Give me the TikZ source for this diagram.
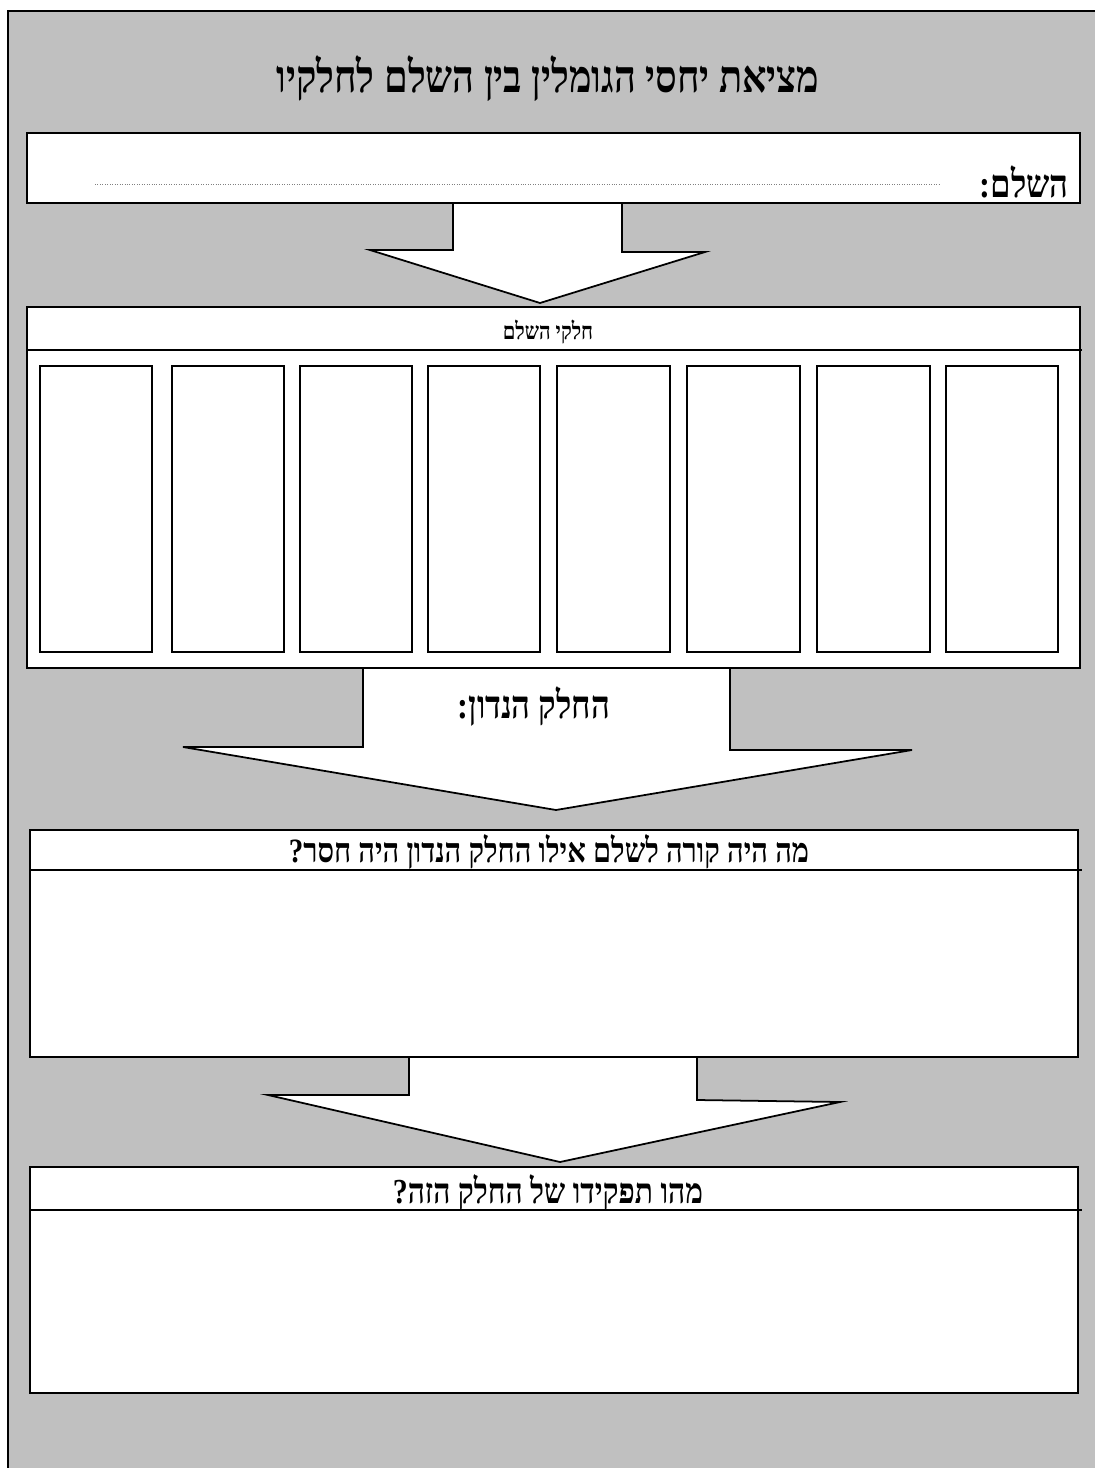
\documentclass[tikz,border=0pt]{standalone}
\usepackage{fontspec}
\usepackage{tikz}
\usetikzlibrary{positioning}
\TeXXeTstate=1
\newfontfamily\hebfont[Script=Hebrew, FakeStretch=0.85]{Liberation Serif Bold}

\begin{document}
\begin{tikzpicture}[
    x=0.02cm, y=-0.02cm,
    panel/.style={draw=black, fill=white, line width=1.4pt},
    blockarrow/.style={draw=black, fill=white, line width=1pt, line join=miter},
    cell/.style={draw=black, fill=white, line width=1.2pt},
    rule line/.style={draw=black, line width=1.3pt},
    heading/.style={font=\hebfont\fontsize{#1}{#1}\selectfont, inner sep=0pt, anchor=center}
]
\useasboundingbox (0,0) rectangle (1095,1468);

% page frame
\draw[fill={rgb,255:red,192;green,192;blue,192}, line width=1.4pt] (8,11) rectangle (1120,1490);

% title
\node[heading=25.5] (title) at (548,79) {\beginR מציאת יחסי הגומלין בין השלם לחלקיו\endR};

% block arrows between the panels
\draw[blockarrow] (453,203) -- (453,250) -- (370,250) -- (540,303) -- (705,252) -- (622,252) -- (622,203);
\draw[blockarrow] (363,668) -- (363,747) -- (183,747) -- (556,810) -- (912,750) -- (730,750) -- (730,668);
\draw[blockarrow] (409,1057) -- (409,1095) -- (268,1095) -- (560,1162) -- (840,1102) -- (697,1100) -- (697,1057);

% the whole
\draw[panel] (27,133) rectangle (1080,203);
\draw[gray, densely dotted, line width=0.4pt] (95,184) -- (940,184);
\node[heading=22, anchor=east] (whole) at (1069,182) {\beginR השלם:\endR};

% parts of the whole
\draw[panel] (27,307) rectangle (1080,668);
\draw[rule line] (27,350) -- (1082,350);
\node[heading=13.5] (parts) at (548,332) {\beginR חלקי השלם\endR};
\foreach \xa/\xb in {40/152, 172/284, 300/412, 428/540, 557/670, 687/800, 817/930, 946/1058}
    \draw[cell] (\xa,366) rectangle (\xb,652);

% part in question
\node[heading=22] (part) at (534,707) {\beginR החלק הנדון:\endR};

% what if missing
\draw[panel] (30,830) rectangle (1078,1057);
\draw[rule line] (30,870) -- (1082,870);
\node[heading=19.4] (missing) at (549,852) {\beginR מה היה קורה לשלם אילו החלק הנדון היה חסר?\endR};

% its role
\draw[panel] (30,1167) rectangle (1078,1393);
\draw[rule line] (30,1210) -- (1082,1210);
\node[heading=20] (role) at (548,1192) {\beginR מהו תפקידו של החלק הזה?\endR};

\end{tikzpicture}
\end{document}
